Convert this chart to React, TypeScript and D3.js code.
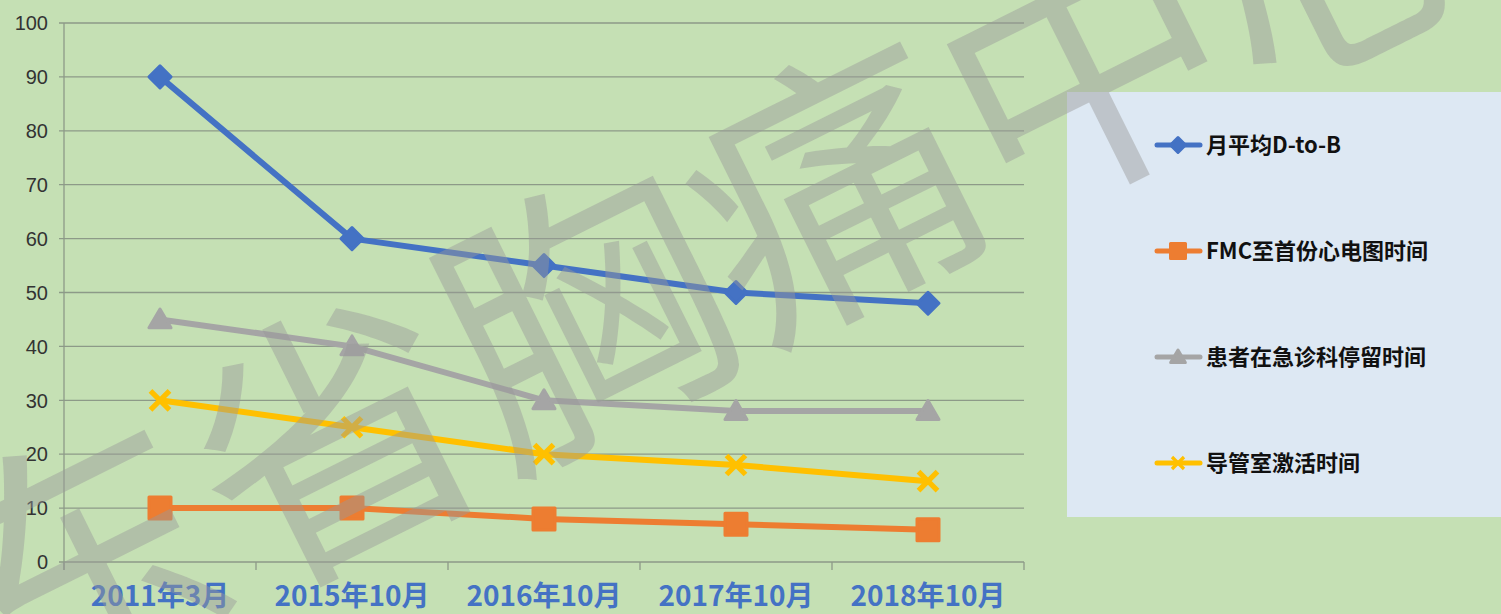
import React, { useEffect, useRef } from 'react';
import * as d3 from 'd3';

// categories and series
const categories = ['2011年3月', '2015年10月', '2016年10月', '2017年10月', '2018年10月'];
const seriesNames = ['月平均D-to-B', 'FMC至首份心电图时间', '患者在急诊科停留时间', '导管室激活时间'];
const dtob = [90, 60, 55, 50, 48];
const fmcEcg = [10, 10, 8, 7, 6];
const erStay = [45, 40, 30, 28, 28];
const cathLab = [30, 25, 20, 18, 15];
const yTicks = [0, 10, 20, 30, 40, 50, 60, 70, 80, 90, 100];
const watermark = '广东省胸痛中心';

const colors = ['#4472c4', '#ed7d31', '#a5a5a5', '#ffc000'];
const markerTypes = ['diamond', 'square', 'triangle', 'x'];

const App = () => {
  const svgRef = useRef<SVGSVGElement>(null);

  useEffect(() => {
    const W = 1501;
    const H = 614;
    const svg = d3.select(svgRef.current).attr('width', W).attr('height', H);
    svg.selectAll('*').remove();

    // background
    svg.append('rect').attr('width', W).attr('height', H).attr('fill', '#c5e0b4');

    const plot = { left: 64, right: 1024, top: 23, bottom: 562 };

    const x = d3.scaleBand().domain(categories).range([plot.left, plot.right]);
    const y = d3.scaleLinear().domain([0, 100]).range([plot.bottom, plot.top]);
    const cx = (c: string) => (x(c) as number) + x.bandwidth() / 2;

    // gridlines
    svg.append('g')
      .selectAll('line')
      .data(yTicks)
      .join('line')
      .attr('x1', plot.left - 5)
      .attr('x2', plot.right)
      .attr('y1', d => y(d))
      .attr('y2', d => y(d))
      .attr('stroke', '#8d9a88')
      .attr('stroke-width', 1.3);

    // y axis line
    svg.append('line')
      .attr('x1', plot.left).attr('x2', plot.left)
      .attr('y1', plot.top).attr('y2', plot.bottom + 8)
      .attr('stroke', '#8d9a88').attr('stroke-width', 1.3);

    // x ticks at band edges
    const edges = categories.map(c => x(c) as number).concat([plot.right]);
    svg.append('g')
      .selectAll('line')
      .data(edges)
      .join('line')
      .attr('x1', d => d).attr('x2', d => d)
      .attr('y1', plot.bottom).attr('y2', plot.bottom + 8)
      .attr('stroke', '#8d9a88').attr('stroke-width', 1.3);

    // y tick labels
    svg.append('g')
      .selectAll('text')
      .data(yTicks)
      .join('text')
      .attr('x', 48)
      .attr('y', d => y(d))
      .attr('dy', '0.36em')
      .attr('text-anchor', 'end')
      .attr('font-family', 'Liberation Sans, Arial, sans-serif')
      .attr('font-size', 20)
      .attr('fill', '#333')
      .text(d => d);

    // x labels
    svg.append('g')
      .selectAll('text')
      .data(categories)
      .join('text')
      .attr('x', d => cx(d))
      .attr('y', 606)
      .attr('text-anchor', 'middle')
      .attr('font-family', 'Noto Sans CJK SC, sans-serif')
      .attr('font-weight', 'bold')
      .attr('font-size', 28)
      .attr('fill', '#4472c4')
      .text(d => d);

    const markerPath = (type: string, s: number) => {
      if (type === 'diamond') return `M0,${-s}L${s},0L0,${s}L${-s},0Z`;
      if (type === 'square') return `M${-s},${-s}H${s}V${s}H${-s}Z`;
      if (type === 'triangle') return `M0,${-s}L${s * 1.05},${s * 0.8}H${-s * 1.05}Z`;
      return `M${-s},${-s}L${s},${s}M${-s},${s}L${s},${-s}`;
    };

    const drawMarker = (g: any, type: string, color: string, px: number, py: number, s: number) => {
      const p = g.append('path')
        .attr('transform', `translate(${px},${py})`)
        .attr('d', markerPath(type, s))
        .attr('stroke', color)
        .attr('stroke-linejoin', 'round');
      if (type === 'x') {
        p.attr('fill', 'none').attr('stroke-width', s * 0.55).attr('stroke-linecap', 'butt');
      } else {
        p.attr('fill', color).attr('stroke-width', 3);
      }
    };

    const allSeries = [dtob, fmcEcg, erStay, cathLab];
    const line = d3.line<number>()
      .x((_, i) => cx(categories[i]))
      .y(d => y(d));

    allSeries.forEach((vals, si) => {
      const g = svg.append('g');
      g.append('path')
        .datum(vals)
        .attr('fill', 'none')
        .attr('stroke', colors[si])
        .attr('stroke-width', 6)
        .attr('stroke-linejoin', 'round')
        .attr('d', line);
      const sizes = [11, 11, 10.5, 9.5];
      vals.forEach((v, i) => drawMarker(g, markerTypes[si], colors[si], cx(categories[i]), y(v), sizes[si]));
    });

    // legend
    const lg = svg.append('g');
    lg.append('rect')
      .attr('x', 1067).attr('y', 92)
      .attr('width', W - 1067).attr('height', 517 - 92)
      .attr('fill', '#dde8f3');
    const legendY = [145, 251, 357, 463];
    seriesNames.forEach((name, i) => {
      lg.append('line')
        .attr('x1', 1157).attr('x2', 1200)
        .attr('y1', legendY[i]).attr('y2', legendY[i])
        .attr('stroke', colors[i]).attr('stroke-width', 5)
        .attr('stroke-linecap', 'round');
      const ls = [7.5, 7.5, 7, 6];
      drawMarker(lg, markerTypes[i], colors[i], 1178, legendY[i], ls[i]);
      lg.append('text')
        .attr('x', 1206)
        .attr('y', legendY[i])
        .attr('dy', '0.36em')
        .attr('font-family', 'Noto Sans CJK SC, sans-serif')
        .attr('font-weight', 'bold')
        .attr('font-size', 22)
        .attr('fill', '#111')
        .text(name);
    });

    // watermark over everything
    svg.append('text')
      .attr('transform', 'translate(575,300) rotate(-26.5)')
      .attr('text-anchor', 'middle')
      .attr('dominant-baseline', 'central')
      .attr('font-family', 'Noto Sans CJK SC, sans-serif')
      .attr('font-size', 280)
      .attr('fill', '#9a9a9a')
      .attr('fill-opacity', 0.45)
      .text(watermark);
  }, []);

  return <svg ref={svgRef} style={{ position: 'absolute', left: 0, top: 0, display: 'block' }}></svg>;
};

export default App;
